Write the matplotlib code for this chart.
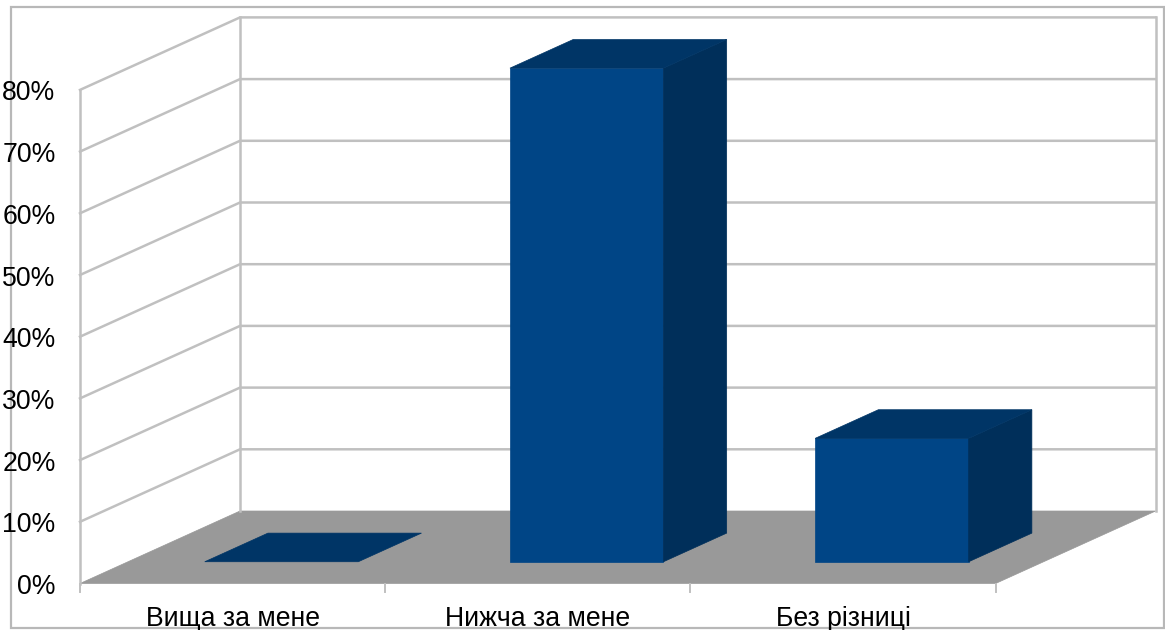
import matplotlib.pyplot as plt
from matplotlib.patches import Polygon, Rectangle

plt.rcParams['font.family'] = ['Liberation Sans', 'DejaVu Sans']

# data
categories = ['Вища за мене', 'Нижча за мене', 'Без різниці']
values = [0, 80, 20]
y_ticks = [0, 10, 20, 30, 40, 50, 60, 70, 80]

# oblique projection, everything below is in pixels of the 1165x630 picture
x0 = 80
y0 = 583.5
cat_w = 305.2
val_h = 6.17
depth_x = 160
depth_y = 72.5
bar_w = 0.503
bar_d0 = 0.3
bar_d1 = 0.695
bar_shift = 0.003

grid_c = '#c0c0c0'
front_c = '#004586'
side_c = '#002f5a'
top_c = '#003566'
floor_c = '#999999'


def proj(c, v, d):
    return (x0 + c * cat_w + d * depth_x, y0 - v * val_h - d * depth_y)


def quad(ax, pts, color, z):
    ax.add_patch(Polygon(pts, closed=True, facecolor=color, edgecolor=color, linewidth=0.5, zorder=z))


fig = plt.figure(figsize=(11.65, 6.3), dpi=100)
ax = fig.add_axes([0, 0, 1, 1])
ax.set_xlim(0, 1165)
ax.set_ylim(630, 0)
ax.axis('off')

# outer frame
ax.add_patch(Rectangle((11, 7), 1152.5, 621, fill=False, edgecolor='#b8b8b8', linewidth=1.6, zorder=1))

n = len(categories)
top = y_ticks[-1]

# floor
quad(ax, [proj(0, 0, 0), proj(n, 0, 0), proj(n, 0, 1), proj(0, 0, 1)], floor_c, 2)

# gridlines on the side wall and the back wall
for t in y_ticks[1:]:
    xs, ys = zip(proj(0, t, 0), proj(0, t, 1), proj(n, t, 1))
    ax.plot(xs, ys, color=grid_c, lw=1.8, zorder=2)
for c, d in [(0, 0), (0, 1), (n, 1)]:
    xs, ys = zip(proj(c, 0, d), proj(c, top, d))
    ax.plot(xs, ys, color=grid_c, lw=1.8, zorder=2)

# ticks and labels
for t in y_ticks:
    x, y = proj(0, t, 0)
    ax.text(x - 24.5, y + 3.5, f'{t}%', ha='right', va='center', fontsize=19.2, color='black', zorder=5)
for i in range(n + 1):
    x, y = proj(i, 0, 0)
    ax.plot([x, x], [y, y + 8], color=grid_c, lw=1.4, zorder=2)
for i, label in enumerate(categories):
    x, y = proj(i + 0.5, 0, 0)
    ax.text(x, y + 35.5, label, ha='center', va='center', fontsize=19.2, color='black', zorder=5)

# bars, drawn through the projection
for i, v in enumerate(values):
    c0 = i + (1 - bar_w) / 2 + bar_shift
    c1 = c0 + bar_w
    if v > 0:
        quad(ax, [proj(c0, 0, bar_d0), proj(c1, 0, bar_d0), proj(c1, v, bar_d0), proj(c0, v, bar_d0)], front_c, 4)
        quad(ax, [proj(c1, 0, bar_d0), proj(c1, 0, bar_d1), proj(c1, v, bar_d1), proj(c1, v, bar_d0)], side_c, 4)
    quad(ax, [proj(c0, v, bar_d0), proj(c1, v, bar_d0), proj(c1, v, bar_d1), proj(c0, v, bar_d1)], top_c, 4)

fig.savefig('out.png', dpi=100)
